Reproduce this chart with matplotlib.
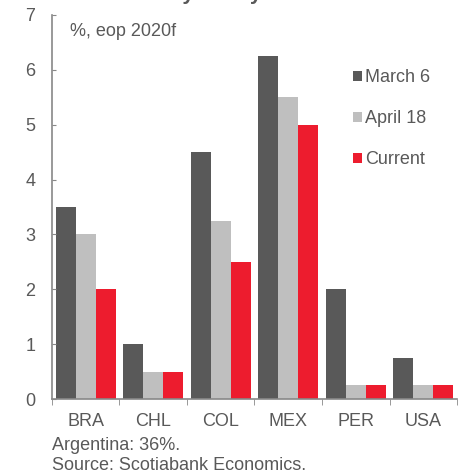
import numpy as np
import matplotlib
matplotlib.use("Agg")
import matplotlib.pyplot as plt

countries = ["BRA", "CHL", "COL", "MEX", "PER", "USA"]
march6 = [3.5, 1.0, 4.5, 6.25, 2.0, 0.75]
april18 = [3.0, 0.5, 3.25, 5.5, 0.25, 0.25]
current = [2.0, 0.5, 2.5, 5.0, 0.25, 0.25]
series_names = ["March 6", "April 18", "Current"]
colors = ["#595959", "#bfbfbf", "#ed1c2e"]
txt = "#595959"


def create_graph():
    plt.rcParams['font.family'] = ['Liberation Sans', 'DejaVu Sans']
    fig = plt.figure(figsize=(4.67, 4.73), dpi=100)
    ax = fig.add_axes([0.1113, 0.1564, 0.8673, 0.8119])

    x = np.arange(len(countries))
    w = 0.297
    for i, (vals, name) in enumerate(zip([march6, april18, current], series_names)):
        ax.bar(x + (i - 1) * w, vals, width=w, color=colors[i], label=name)

    ax.set_xlim(-0.5, len(countries) - 0.5)
    ax.set_ylim(0, 7)
    ax.set_yticks(range(0, 8))
    ax.set_xticks(x)
    ax.set_xticklabels(countries)
    ax.set_xticks(np.arange(-0.5, len(countries)), minor=True)
    ax.tick_params(axis='x', which='major', length=0, pad=10, labelsize=13, labelcolor=txt)
    ax.tick_params(axis='x', which='minor', length=4, direction='out', color='#888888')
    ax.tick_params(axis='y', length=3, direction='in', color='#888888', labelsize=13,
                   labelcolor=txt, pad=12)
    for s in ['top', 'right']:
        ax.spines[s].set_visible(False)
    for s in ['left', 'bottom']:
        ax.spines[s].set_color('#888888')
        ax.spines[s].set_linewidth(1.2)

    ax.text(0.045, 0.98, "%, eop 2020f", transform=ax.transAxes, fontsize=13,
            color=txt, va='top', ha='left')

    ax.legend(loc='upper left', bbox_to_anchor=(0.725, 0.878), frameon=False,
              fontsize=13, labelcolor=txt, handlelength=0.5, handleheight=0.5,
              handletextpad=0.2, labelspacing=1.33, borderaxespad=0)

    fig.text(52 / 467, 1 - 445 / 473, "Argentina: 36%.", fontsize=13, color=txt,
             va='center', ha='left')
    fig.text(52 / 467, 1 - 465 / 473, "Source: Scotiabank Economics.", fontsize=13,
             color=txt, va='center', ha='left')
    fig.text(0.555, 1 - 0.3 / 473, "Monetary Policy Rate Forecasts", fontsize=15,
             fontweight='bold', color=txt, va='baseline', ha='center')

    fig.savefig("out.png", dpi=100)


def main():
    create_graph()


if __name__ == '__main__':
    main()
